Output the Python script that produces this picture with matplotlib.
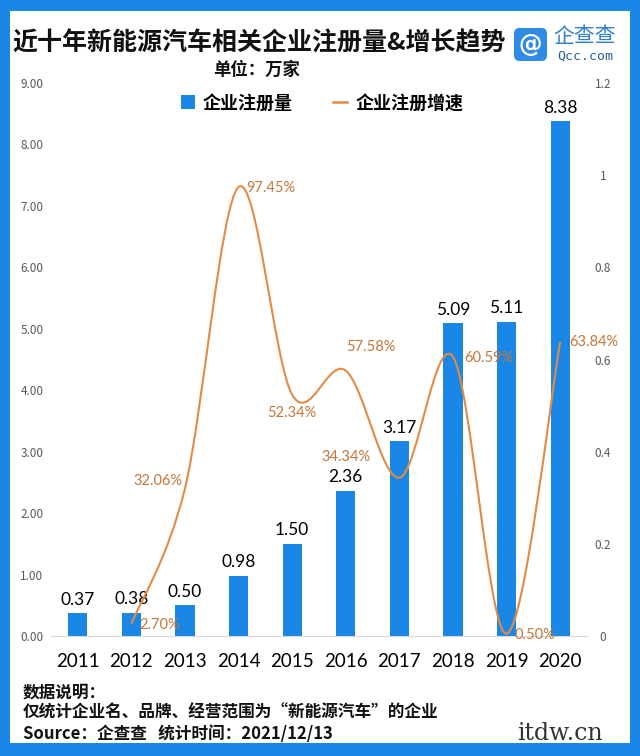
import numpy as np
import matplotlib
matplotlib.use('Agg')
import matplotlib.pyplot as plt
from matplotlib.path import Path
from matplotlib.patches import PathPatch, FancyBboxPatch, Rectangle
from matplotlib.lines import Line2D

plt.rcParams['font.family'] = ['Noto Sans CJK SC', 'DejaVu Sans']

# data
years = ['2011', '2012', '2013', '2014', '2015', '2016', '2017', '2018', '2019', '2020']
counts = [0.37, 0.38, 0.50, 0.98, 1.50, 2.36, 3.17, 5.09, 5.11, 8.38]
growth_years = ['2012', '2013', '2014', '2015', '2016', '2017', '2018', '2019', '2020']
growth = [2.70, 32.06, 97.45, 52.34, 57.58, 34.34, 60.59, 0.50, 63.84]

left_ticks = [0, 1, 2, 3, 4, 5, 6, 7, 8, 9]
right_ticks = [0, 0.2, 0.4, 0.6, 0.8, 1.0, 1.2]
right_tick_labels = ['0', '0.2', '0.4', '0.6', '0.8', '1', '1.2']

# label offsets for growth labels (px right, px up, alignment)
growth_label_pos = [(8, -1, 'left'), (-2, 7, 'right'), (8, -1, 'left'),
                    (0, -18, 'center'), (0, 24, 'left'), (-29, 21, 'right'),
                    (11, -1, 'left'), (8, -1, 'left'), (9, 0, 'left')]

blue = '#1a87e6'
orange = '#e38a45'
label_orange = '#c4773a'
W, H = 640, 756

fig = plt.figure(figsize=(6.4, 7.56), dpi=100)
fig.patch.set_facecolor(blue)
fig.patches.append(Rectangle((10 / W, 13 / H), 620 / W, 732 / H, transform=fig.transFigure,
                             facecolor='white', edgecolor='none', zorder=-10))

ax = fig.add_axes([51 / W, 120 / H, 536 / W, 553 / H])
ax.set_facecolor('none')
x = np.arange(len(years))
bars = ax.bar(x, counts, width=0.36, color=blue, zorder=2)
ax.bar_label(bars, labels=['%.2f' % v for v in counts], padding=4, fontsize=12.5,
             family='Lato', color='black')
ax.set_xlim(-0.5, len(years) - 0.5)
ax.set_ylim(0, 9)
ax.set_yticks(left_ticks)
ax.set_yticklabels(['%.2f' % t for t in left_ticks], fontsize=8.5, color='#595959')
ax.set_xticks(x)
ax.set_xticklabels(years, fontsize=13.5, family='Lato', color='black')
ax.tick_params(axis='y', length=0, pad=5.5)
ax.tick_params(axis='x', length=0, pad=12)
for s in ['top', 'left', 'right']:
    ax.spines[s].set_visible(False)
ax.spines['bottom'].set_color('#d9d9d9')

ax2 = ax.twinx()
ax2.set_ylim(0, 1.2)
ax2.set_yticks(right_ticks)
ax2.set_yticklabels(right_tick_labels, fontsize=8.5, color='#595959')
ax2.tick_params(axis='y', length=0, pad=11.5)
for lab in ax2.get_yticklabels():
    lab.set_horizontalalignment('center')
for s in ax2.spines.values():
    s.set_visible(False)

# smoothed line (Excel-style bezier through the data points)
gx = np.array([years.index(y) for y in growth_years], dtype=float)
gy = np.array(growth) / 100
n = len(gx)
verts = [(gx[0], gy[0])]
codes = [Path.MOVETO]
for i in range(n - 1):
    p0 = i - 1 if i > 0 else i
    p3 = i + 2 if i + 2 < n else i + 1
    c1 = (gx[i] + (gx[i + 1] - gx[p0]) / 6, gy[i] + (gy[i + 1] - gy[p0]) / 6)
    c2 = (gx[i + 1] - (gx[p3] - gx[i]) / 6, gy[i + 1] - (gy[p3] - gy[i]) / 6)
    verts += [c1, c2, (gx[i + 1], gy[i + 1])]
    codes += [Path.CURVE4] * 3
ax2.add_patch(PathPatch(Path(verts, codes), facecolor='none', edgecolor=orange, lw=1.5, zorder=3))

for xi, yi, g, (dx, dy, ha) in zip(gx, gy, growth, growth_label_pos):
    ax2.annotate('%.2f%%' % g, (xi, yi), xytext=(dx * 0.72, dy * 0.72), textcoords='offset points',
                 ha=ha, va='center', fontsize=10.5, family='Lato', color=label_orange)

# legend
handles = [Rectangle((0, 0), 1, 1, facecolor=blue), Line2D([], [], color=orange, lw=1.8)]
fig.legend(handles, ['企业注册量', '企业注册增速'], loc='center', bbox_to_anchor=(322 / W, 1 - 103 / H),
           ncol=2, frameon=False, prop={'size': 13, 'weight': 'bold'}, handlelength=0.8,
           handleheight=0.8, handletextpad=0.45, columnspacing=2.2)

# title
fig.text(12 / W, 1 - 43 / H, '近十年新能源汽车相关企业注册量&增长趋势', fontsize=18, weight='bold',
         ha='left', va='center', color='#111111')
fig.text(257 / W, 1 - 70 / H, '单位：万家', fontsize=12.5, weight='bold', ha='center', va='center',
         color='#111111')

# logo
fig.patches.append(FancyBboxPatch((514 / W, 1 - 61 / H), 33 / W, 33 / H, boxstyle='round,pad=0,rounding_size=0.008',
                                  transform=fig.transFigure, facecolor='#2f8be6', edgecolor='none'))
fig.text(530.5 / W, 1 - 44.5 / H, '@', fontsize=17, weight='bold', color='white', ha='center',
         va='center', family='DejaVu Sans')
fig.text(585 / W, 1 - 36 / H, '企查查', fontsize=15, color='#2f7fd0', ha='center', va='center')
fig.text(585 / W, 1 - 56 / H, 'Qcc.com', fontsize=9.5, color='#2a5f99', ha='center', va='center',
         family='DejaVu Sans Mono')

# footer
fig.text(23 / W, 1 - 692 / H, '数据说明：', fontsize=12, weight='bold', va='center', color='#111111')
fig.text(23 / W, 1 - 713 / H, '仅统计企业名、品牌、经营范围为“新能源汽车”的企业', fontsize=12,
         weight='bold', va='center', color='#111111')
fig.text(23 / W, 1 - 734 / H, 'Source：企查查   统计时间：2021/12/13', fontsize=12,
         weight='bold', va='center', color='#111111')
fig.text(517 / W, 1 - 733 / H, 'itdw.cn', fontsize=17, family='DejaVu Serif', color='#333333',
         va='center')

fig.savefig('out.png', dpi=100, facecolor=fig.get_facecolor())
